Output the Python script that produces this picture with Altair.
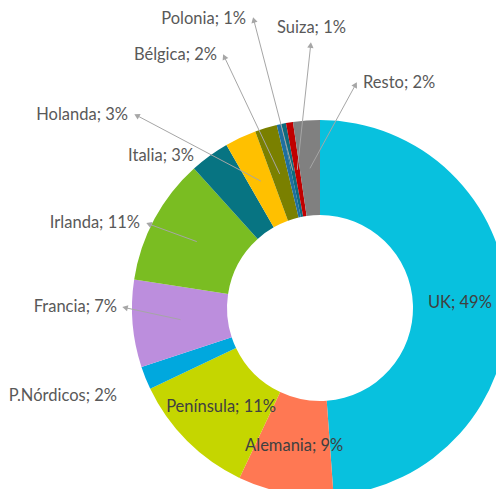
import math
import altair as alt
import pandas as pd

# ---- data ----
categories = ["UK", "Alemania", "Península", "P.Nórdicos", "Francia", "Irlanda",
              "Italia", "Holanda", "Bélgica", "Otros", "Polonia", "Suiza", "Resto"]
values = [48.9, 8.2, 10.9, 2.0, 7.5, 10.9, 3.4, 2.7, 1.9, 0.4, 0.4, 0.6, 2.3]
label_texts = ["UK; 49%", "Alemania; 9%", "Península; 11%", "P.Nórdicos; 2%", "Francia; 7%",
               "Irlanda; 11%", "Italia; 3%", "Holanda; 3%", "Bélgica; 2%", "",
               "Polonia; 1%", "Suiza; 1%", "Resto; 2%"]
colors = ["#08C1DE", "#FF7853", "#C5D600", "#00A8DE", "#BC8EDD", "#7ABD22",
          "#077482", "#FFC000", "#7A8000", "#1F6FA0", "#0E6B7E", "#C00000", "#808080"]

inside = ["UK", "Alemania", "Península"]

# ---- layout (page coords) ----
OFF = 8
CX, CY = 320 - OFF, 308 - OFF
R_OUT, R_IN, R_MID = 188, 93, 140
FS = 16.5

# outside label anchors: (category, x, y, align, arrow tip x, arrow tip y)
outside = [
    ("P.Nórdicos", 117, 396, "right", None, None),
    ("Francia", 117, 307, "right", 122, 307),
    ("Irlanda", 140, 223, "right", 146, 223),
    ("Italia", 194, 156, "right", None, None),
    ("Holanda", 128, 115, "right", 134, 114),
    ("Bélgica", 217, 55, "right", 223, 54),
    ("Polonia", 246, 19, "right", 253, 17),
    ("Suiza", 277, 28, "left", 311, 42),
    ("Resto", 363, 83, "left", 357, 82),
]

df = pd.DataFrame({"cat": categories, "value": values, "label": label_texts,
                   "order": list(range(len(categories)))})

total = sum(values)
mid_angle = {}
acc = 0.0
for c, v in zip(categories, values):
    mid_angle[c] = (acc + v / 2) / total * 360.0
    acc += v

lab_rows, line_rows, head_rows = [], [], []
lab_of = dict(zip(categories, label_texts))
for c, x, y, al, tx, ty in outside:
    lab_rows.append({"x": x - OFF, "y": y - OFF, "text": lab_of[c], "align": al})
    if tx is not None:
        a = math.radians(mid_angle[c])
        sx = CX + R_MID * math.sin(a)
        sy = CY - R_MID * math.cos(a)
        ex, ey = tx - OFF, ty - OFF
        dx, dy = ex - sx, ey - sy
        L = math.hypot(dx, dy)
        ux, uy = dx / L, dy / L
        hx, hy = ex - ux * 4, ey - uy * 4
        ang = math.degrees(math.atan2(dx, -dy)) % 360
        line_rows.append({"x": sx, "y": sy, "x2": hx, "y2": hy})
        head_rows.append({"x": hx, "y": hy, "angle": ang})

lab_df = pd.DataFrame(lab_rows)
line_df = pd.DataFrame(line_rows)
head_df = pd.DataFrame(head_rows)

color_scale = alt.Scale(domain=categories, range=colors)

base = alt.Chart(df).encode(
    theta=alt.Theta("value:Q", stack=True),
    order=alt.Order("order:Q"),
)

arcs = base.mark_arc(outerRadius=R_OUT, innerRadius=R_IN).encode(
    color=alt.Color("cat:N", scale=color_scale, legend=None),
    x=alt.value(CX), y=alt.value(CY),
)

inner_text = base.mark_text(radius=R_MID, font="Lato", fontSize=FS, color="#404040").encode(
    text=alt.Text("lab:N"),
    x=alt.value(CX), y=alt.value(CY),
).transform_calculate(
    lab="indexof(" + str(inside).replace("'", '"') + ", datum.cat) >= 0 ? datum.label : ''"
)

lines = alt.Chart(line_df).mark_rule(color="#A6A6A6", strokeWidth=1).encode(
    x=alt.X("x:Q", scale=None), y=alt.Y("y:Q", scale=None),
    x2="x2:Q", y2="y2:Q",
)

heads = alt.Chart(head_df).mark_point(shape="triangle", filled=True, color="#A6A6A6",
                                      size=40, opacity=1).encode(
    x=alt.X("x:Q", scale=None), y=alt.Y("y:Q", scale=None),
    angle=alt.Angle("angle:Q", scale=None),
)

out_r = alt.Chart(lab_df[lab_df["align"] == "right"]).mark_text(
    font="Lato", fontSize=FS, color="#595959", align="right", baseline="middle").encode(
    x=alt.X("x:Q", scale=None), y=alt.Y("y:Q", scale=None), text="text:N")
out_l = alt.Chart(lab_df[lab_df["align"] == "left"]).mark_text(
    font="Lato", fontSize=FS, color="#595959", align="left", baseline="middle").encode(
    x=alt.X("x:Q", scale=None), y=alt.Y("y:Q", scale=None), text="text:N")

chart = alt.layer(arcs, inner_text, lines, heads, out_r, out_l).properties(
    width=488, height=481, padding=0,
    autosize=alt.AutoSizeParams(type="none"),
).configure_view(stroke=None).configure_axis(disable=True)

chart.save("out.html", embed_options={"renderer": "svg", "actions": False})
